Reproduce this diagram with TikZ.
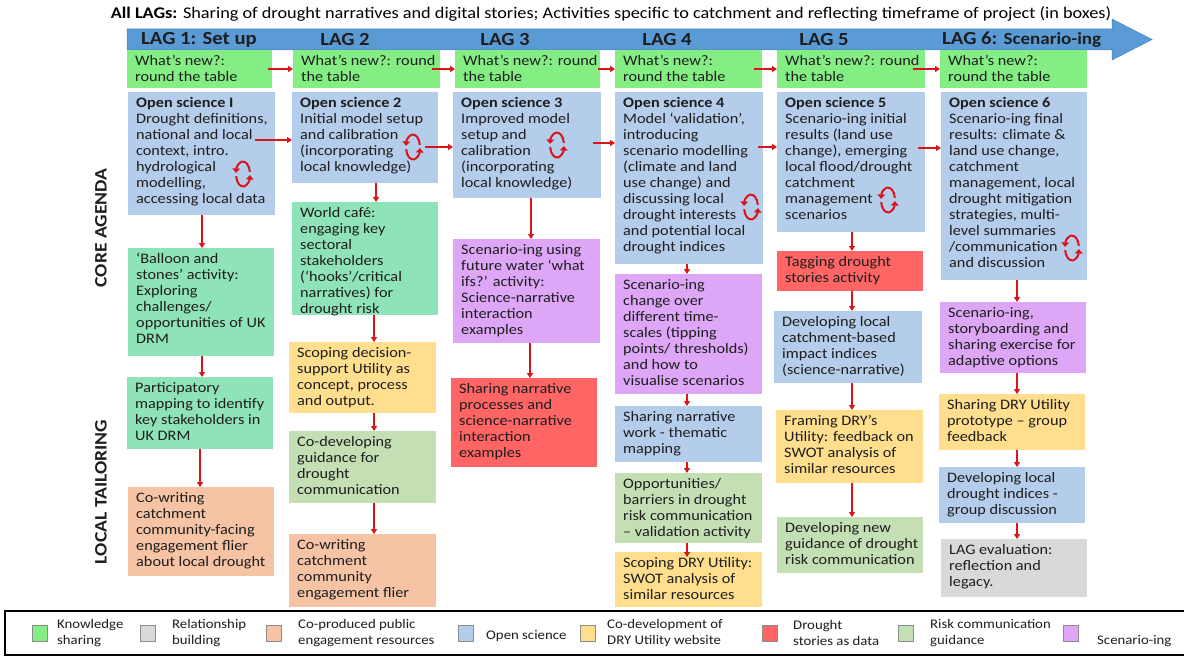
\documentclass[tikz,border=0pt]{standalone}
\usepackage{fontspec}
\setmainfont{Carlito}[FakeStretch=1.12]
\usetikzlibrary{arrows.meta,fit,calc}
\definecolor{kgreen}{HTML}{84EE84}
\definecolor{mint}{HTML}{8FE3B8}
\definecolor{lblue}{HTML}{B4CDEA}
\definecolor{peach}{HTML}{F6C4A5}
\definecolor{yell}{HTML}{FFDF8E}
\definecolor{sage}{HTML}{C5DFB5}
\definecolor{purp}{HTML}{DDA6F7}
\definecolor{dred}{HTML}{FF6565}
\definecolor{lgray}{HTML}{D9D9D9}
\definecolor{bandc}{HTML}{5B9BD5}
\definecolor{bandl}{HTML}{4A84BD}
\definecolor{arrred}{HTML}{D9141B}
\definecolor{txtc}{HTML}{1E1E1E}
\tikzset{
  boxs/.style={inner sep=0pt, outer sep=0pt, draw=none},
  txt/.style={inner sep=0pt, align=left, text=txtc, font=\fontsize{14.5}{16}\selectfont},
  arr/.style={draw=arrred, line width=1.6pt, -{Triangle[length=5pt,width=6pt]}},
  cycl/.style={draw=arrred, line width=2pt, -{Triangle[length=4.5pt,width=7.5pt]}},
  cyc/.pic={
    \draw[cycl] (-10:7 and 12.5) arc[start angle=-10, end angle=-175, x radius=7, y radius=12.5];
    \draw[cycl] (-190:7 and 12.5) arc[start angle=-190, end angle=-355, x radius=7, y radius=12.5];
  },
  lagl/.style={inner sep=0pt, text=txtc, font=\fontsize{18.5}{20}\selectfont\bfseries},
  sidel/.style={inner sep=0pt, text=txtc, rotate=90, font=\fontsize{17.5}{20}\selectfont\bfseries},
  sw/.style={draw=black!45, line width=0.6pt, minimum width=15pt, minimum height=16pt, inner sep=0pt},
  lt/.style={inner sep=0pt, anchor=west, align=left, text=txtc, font=\fontsize{13.2}{15.5}\selectfont},
}
\newcommand\bx[7]{%
  \node[boxs, fill=#6, fit={(#2,#3) (#4,#5)}] (#1) {};
  \node[txt, anchor=north west] (#1t) at ([xshift=8pt,yshift=-5pt]#1.north west) {#7};
}
\begin{document}
\begin{tikzpicture}[x=1pt,y=-1pt]
\useasboundingbox (0,0) rectangle (1184,658);
\fill[white] (0,0) rectangle (1184,658);

% title
\node[inner sep=0pt, text=black, font=\fontsize{16.3}{18}\selectfont] (title) at (611,14)
  {\textbf{All LAGs:} Sharing of drought narratives and digital stories; Activities specific to catchment and reflecting timeframe of project (in boxes)};

% band arrow
\filldraw[fill=bandc, draw=bandl, line width=0.5pt] (127,29) -- (1112,29) -- (1112,19) -- (1152,39.5) -- (1112,60) -- (1112,50) -- (127,50) -- cycle;
\node[lagl] (lag1) at (199,39.5) {LAG 1: Set up};
\node[lagl] (lag2) at (345,39.5) {LAG 2};
\node[lagl] (lag3) at (505,39.5) {LAG 3};
\node[lagl] (lag4) at (667,39.5) {LAG 4};
\node[lagl] (lag5) at (824,39.5) {LAG 5};
\node[lagl, anchor=west] (lag6) at (942,39.5) {LAG 6: \fontsize{17}{20}\selectfont Scenario-ing};

% side labels
\node[sidel] (core) at (101,228) {CORE AGENDA};
\node[sidel] (local) at (101,492) {LOCAL TAILORING};

% what's new row
\bx{wn1}{127}{50}{272}{88}{kgreen}{What’s new?:\\round the table}
\bx{wn2}{293}{50}{440}{88}{kgreen}{What’s new?: round\\the table}
\bx{wn3}{455}{50}{600}{88}{kgreen}{What’s new?: round\\the table}
\bx{wn4}{615}{50}{762}{88}{kgreen}{What’s new?:\\round the table}
\bx{wn5}{777}{50}{925}{88}{kgreen}{What’s new?: round\\the table}
\bx{wn6}{940}{50}{1087}{88}{kgreen}{What’s new?:\\round the table}

% open science row
\bx{os1}{128}{92}{275}{215}{lblue}{\textbf{Open science I}\\Drought definitions,\\national and local\\context, intro.\\hydrological\\modelling,\\accessing local data}
\bx{os2}{292}{92}{438}{183}{lblue}{\textbf{Open science 2}\\Initial model setup\\and calibration\\(incorporating\\local knowledge)}
\bx{os3}{453}{92}{601}{198}{lblue}{\textbf{Open science 3}\\Improved model\\setup and\\calibration\\(incorporating\\local knowledge)}
\bx{os4}{615}{92}{763}{264}{lblue}{\textbf{Open science 4}\\Model ‘validation’,\\introducing\\scenario modelling\\(climate and land\\use change) and\\discussing local\\drought interests\\and potential local\\drought indices}
\bx{os5}{777}{92}{925}{232}{lblue}{\textbf{Open science 5}\\Scenario-ing initial\\results (land use\\change), emerging\\local flood/drought\\catchment\\management\\scenarios}
\bx{os6}{941}{92}{1087}{280}{lblue}{\textbf{Open science 6}\\Scenario-ing final\\results: climate \&\\land use change,\\catchment\\management, local\\drought mitigation\\strategies, multi-\\level summaries\\/communication\\and discussion}

% column 1
\bx{c1b}{128}{248}{274}{356}{mint}{‘Balloon and\\stones’ activity:\\Exploring\\challenges/\\opportunities of UK\\DRM}
\bx{c1p}{127}{377}{273}{449}{mint}{Participatory\\mapping to identify\\key stakeholders in\\UK DRM}
\bx{c1w}{128}{487}{274}{576}{peach}{Co-writing\\catchment\\community-facing\\engagement flier\\about local drought}
% column 2
\bx{c2w}{292}{202}{438}{315}{mint}{World café:\\engaging key\\sectoral\\stakeholders\\(‘hooks’/critical\\narratives) for\\drought risk}
\bx{c2s}{289}{342}{436}{413}{yell}{Scoping decision-\\support Utility as\\concept, process\\and output.}
\bx{c2g}{289}{431}{436}{503}{sage}{Co-developing\\guidance for\\drought\\communication}
\bx{c2c}{289}{534}{436}{607}{peach}{Co-writing\\catchment\\community\\engagement flier}
% column 3
\bx{c3s}{453}{239}{600}{343}{purp}{Scenario-ing using\\future water ‘what\\ifs?’ activity:\\Science-narrative\\interaction\\examples}
\bx{c3n}{451}{378}{597}{467}{dred}{Sharing narrative\\processes and\\science-narrative\\interaction\\examples}
% column 4
\bx{c4s}{615}{274}{762}{394}{purp}{Scenario-ing\\change over\\different time-\\scales (tipping\\points/ thresholds)\\and how to\\visualise scenarios}
\bx{c4n}{615}{406}{762}{462}{lblue}{Sharing narrative\\work - thematic\\mapping}
\bx{c4o}{615}{473}{762}{543}{sage}{Opportunities/\\barriers in drought\\risk communication\\– validation activity}
\bx{c4d}{615}{552}{762}{607}{yell}{Scoping DRY Utility:\\SWOT analysis of\\similar resources}
% column 5
\bx{c5t}{777}{251}{923}{291}{dred}{Tagging drought\\stories activity}
\bx{c5d}{774}{311}{922}{383}{lblue}{Developing local\\catchment-based\\impact indices\\(science-narrative)}
\bx{c5f}{776}{410}{923}{483}{yell}{Framing DRY’s\\Utility: feedback on\\SWOT analysis of\\similar resources}
\bx{c5g}{777}{517}{923}{573}{sage}{Developing new\\guidance of drought\\risk communication}
% column 6
\bx{c6s}{940}{302}{1086}{373}{purp}{Scenario-ing,\\storyboarding and\\sharing exercise for\\adaptive options}
\bx{c6d}{939}{394}{1085}{450}{yell}{Sharing DRY Utility\\prototype – group\\feedback}
\bx{c6i}{939}{467}{1085}{523}{lblue}{Developing local\\drought indices -\\group discussion}
\bx{c6e}{941}{539}{1087}{597}{lgray}{LAG evaluation:\\reflection and\\legacy.}

% horizontal arrows, what's new row
\draw[arr] ($(wn1.east)+(-4,0)$) -- (wn2.west);
\draw[arr] ($(wn2.east)+(-8,0)$) -- (wn3.west);
\draw[arr] ($(wn3.east)+(-2,0)$) -- (wn4.west);
\draw[arr] ($(wn4.east)+(-8,0)$) -- (wn5.west);
\draw[arr] ($(wn5.east)+(-12,0)$) -- (wn6.west);

% horizontal arrows, open science row
\draw[arr] ($(os1.east |- 0,140)+(-20,0)$) -- (os2.west |- 0,140);
\draw[arr] ($(os2.east |- 0,147)+(-13,0)$) -- (os3.west |- 0,147);
\draw[arr] ($(os3.east |- 0,143)+(-8,0)$) -- (os4.west |- 0,143);
\draw[arr] ($(os4.east |- 0,147)+(-5,0)$) -- (os5.west |- 0,147);
\draw[arr] ($(os5.east |- 0,148)+(-7,0)$) -- (os6.west |- 0,148);

% vertical arrows
\draw[arr] (os1.south -| 202,0) -- (c1b.north -| 202,0);
\draw[arr] (c1b.south -| 202,0) -- (c1p.north -| 202,0);
\draw[arr] (c1p.south -| 200,0) -- (c1w.north -| 200,0);
\draw[arr] (os2.south -| 376,0) -- (c2w.north -| 376,0);
\draw[arr] (c2w.south -| 374,0) -- (c2s.north -| 374,0);
\draw[arr] (c2s.south -| 374,0) -- (c2g.north -| 374,0);
\draw[arr] (c2g.south -| 374,0) -- (c2c.north -| 374,0);
\draw[arr] (os3.south -| 531,0) -- (c3s.north -| 531,0);
\draw[arr] (c3s.south -| 530,0) -- (c3n.north -| 530,0);
\draw[arr] (os4.south -| 687,0) -- (c4s.north -| 687,0);
\draw[arr] (c4s.south -| 687,0) -- (c4n.north -| 687,0);
\draw[arr] (c4n.south -| 687,0) -- (c4o.north -| 687,0);
\draw[arr, shorten >=-5pt] (c4o.south -| 687,0) -- (c4d.north -| 687,0);
\draw[arr] (os5.south -| 852,0) -- (c5t.north -| 852,0);
\draw[arr] (c5t.south -| 852,0) -- (c5d.north -| 852,0);
\draw[arr] (c5d.south -| 852,0) -- (c5f.north -| 852,0);
\draw[arr] (c5f.south -| 852,0) -- (c5g.north -| 852,0);
\draw[arr] (os6.south -| 1017,0) -- (c6s.north -| 1017,0);
\draw[arr] (c6s.south -| 1017,0) -- (c6d.north -| 1017,0);
\draw[arr] (c6d.south -| 1017,0) -- (c6i.north -| 1017,0);
\draw[arr] (c6i.south -| 1017,0) -- (c6e.north -| 1017,0);

% cycle icons
\pic at (243,174) {cyc};
\pic at (413,147) {cyc};
\pic at (557,145) {cyc};
\pic at (751,207) {cyc};
\pic at (888,200) {cyc};
\pic at (1072,248) {cyc};

% legend
\draw[black, line width=1.1pt] (5,611) rectangle (1195,655);
\node[sw, fill=kgreen] (s1) at (40,633) {};
\node[lt] (t1) at (57,633) {Knowledge\\sharing};
\node[sw, fill=lgray] (s2) at (148,633) {};
\node[lt] (t2) at (172,633) {Relationship\\building};
\node[sw, fill=peach] (s3) at (274,633) {};
\node[lt] (t3) at (298,633) {Co-produced public\\engagement resources};
\node[sw, fill=lblue] (s4) at (466,633) {};
\node[lt] (t4) at (486,636) {Open science};
\node[sw, fill=yell] (s5) at (588,633) {};
\node[lt] (t5) at (607,633) {Co-development of\\DRY Utility website};
\node[sw, fill=dred] (s6) at (770,633) {};
\node[lt] (t6) at (793,633) {Drought\\stories as data};
\node[sw, fill=sage] (s7) at (906,633) {};
\node[lt] (t7) at (930,633) {Risk communication\\guidance};
\node[sw, fill=purp] (s8) at (1071,633) {};
\node[lt] (t8) at (1097,641) {Scenario-ing};
\end{tikzpicture}
\end{document}
